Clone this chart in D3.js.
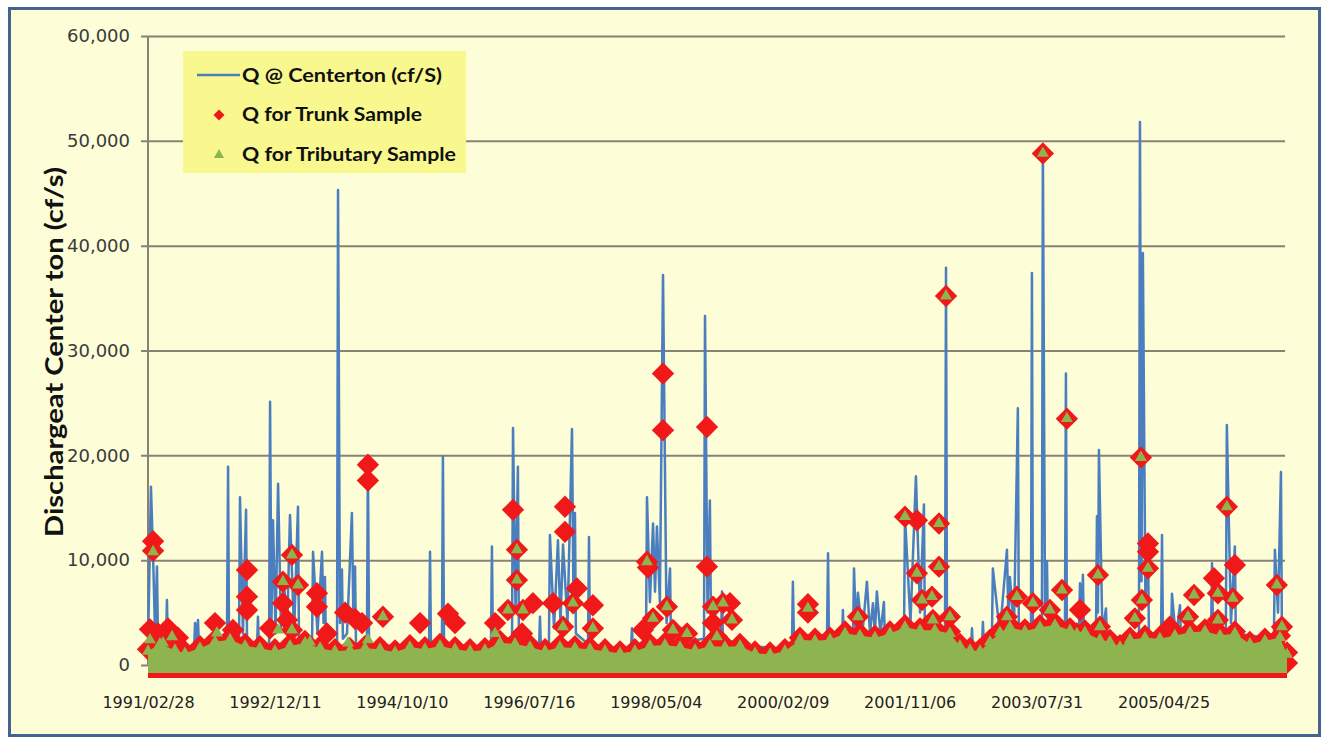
<!DOCTYPE html>
<html>
<head>
<meta charset="utf-8">
<script src="https://cdn.jsdelivr.net/npm/d3@7"></script>
<style>
  body { margin: 0; background: #ffffff; }
  svg { display: block; }
</style>
</head>
<body>
<div id="chart"></div>
<script>
// x axis is the spreadsheet row (one row per day), a date label every 650 rows
var tickRows = [0, 650, 1300, 1950, 2600, 3250, 3900, 4550, 5200];
var tickLabels = ['1991/02/28', '1992/12/11', '1994/10/10', '1996/07/16', '1998/05/04',
    '2000/02/09', '2001/11/06', '2003/07/31', '2005/04/25'];
var yTicks = [0, 10000, 20000, 30000, 40000, 50000, 60000];
var lastRow = 5832;

// Q @ Centerton (cf/s), spikes
var flowRow = [
    0, 15, 26, 36, 46, 51, 92, 97, 102, 236,
    241, 248, 256, 261, 404, 410, 415, 466, 471, 486,
    502, 507, 558, 563, 568, 620, 625, 632, 640, 653,
    666, 681, 696, 712, 727, 748, 768, 773, 840, 845,
    868, 891, 899, 906, 911, 968, 973, 983, 993, 998,
    1019, 1044, 1052, 1060, 1065, 1121, 1126, 1132, 1439, 1444,
    1449, 1505, 1510, 1516, 1756, 1761, 1766, 1864, 1869, 1882,
    1894, 1899, 2002, 2007, 2012, 2053, 2058, 2079, 2099, 2112,
    2125, 2148, 2171, 2179, 2186, 2191, 2253, 2258, 2263, 2473,
    2478, 2483, 2550, 2555, 2570, 2586, 2596, 2606, 2621, 2637,
    2655, 2673, 2678, 2847, 2852, 2865, 2877, 2883, 2934, 2939,
    2944, 3297, 3302, 3308, 3476, 3482, 3487, 3553, 3558, 3564,
    3610, 3615, 3625, 3635, 3658, 3681, 3697, 3712, 3722, 3732,
    3750, 3768, 3773, 3871, 3876, 3904, 3932, 3953, 3973, 3978,
    4081, 4086, 4091, 4214, 4219, 4224, 4270, 4275, 4280, 4321,
    4326, 4362, 4398, 4406, 4413, 4434, 4454, 4459, 4521, 4526,
    4531, 4577, 4582, 4593, 4603, 4608, 4695, 4700, 4705, 4767,
    4772, 4780, 4787, 4792, 4854, 4859, 4864, 4869, 4887, 4905,
    4910, 5074, 5079, 5087, 5094, 5107, 5120, 5125, 5187, 5192,
    5197, 5238, 5243, 5263, 5284, 5289, 5443, 5448, 5453, 5519,
    5524, 5545, 5565, 5570, 5765, 5770, 5786, 5801, 5806, 5832
];
var flowQ = [
    1500, 17000, 10500, 3000, 9400, 2500, 2000, 6200, 1500, 1500,
    4000, 1800, 4300, 1500, 1500, 18900, 1800, 2000, 16000, 3000,
    14800, 2500, 1500, 4600, 1500, 2000, 25100, 4000, 13800, 3000,
    17300, 3500, 8000, 3000, 14300, 3000, 15100, 2500, 2000, 10800,
    3000, 10800, 4000, 8400, 1800, 1800, 45300, 4000, 9100, 2500,
    3000, 14500, 4000, 9400, 2000, 2000, 19500, 2000, 1500, 10800,
    1500, 1800, 19900, 1800, 1500, 11300, 2000, 2500, 22600, 5000,
    18900, 3000, 1500, 4600, 1500, 2000, 12400, 3500, 11900, 4000,
    11500, 4000, 22500, 5000, 14500, 3000, 2000, 12200, 1800, 1500,
    3500, 1500, 2500, 16000, 6000, 13500, 7000, 13200, 6000, 37200,
    4000, 9200, 2000, 2500, 33300, 5000, 15700, 3000, 2500, 7000,
    2000, 1500, 7950, 1800, 1800, 10650, 2000, 2000, 5250, 2200,
    2500, 9200, 3500, 6900, 3000, 7950, 3000, 5900, 3000, 7000,
    3000, 6000, 2500, 3000, 14200, 4000, 18000, 5000, 15300, 3000,
    3000, 37900, 3000, 1500, 3500, 1500, 1800, 4100, 2000, 2500,
    9200, 3000, 11000, 4000, 8400, 3500, 24500, 3000, 3000, 37400,
    3500, 3500, 49300, 5000, 9900, 3000, 3000, 27800, 3000, 3000,
    7800, 4000, 8600, 3000, 3000, 14200, 5000, 20500, 3000, 5400,
    2500, 2500, 51800, 8000, 39300, 6000, 11800, 3000, 2500, 12400,
    2500, 2500, 6800, 2500, 5700, 2500, 2500, 9700, 3000, 3000,
    22900, 4000, 11300, 3000, 2500, 11000, 5000, 18400, 2500, 1200
];

// Q for Trunk Sample
var trunkRow = [
    26, 26, 10, 51, 102, 153, 343, 435, 625, 507,
    507, 507, 737, 691, 691, 768, 712, 865, 865, 737,
    916, 1126, 1126, 1203, 1009, 1060, 1096, 1393, 1536, 1572,
    1869, 1889, 1889, 1843, 1920, 1915, 1777, 1971, 2637, 2637,
    2862, 2862, 2555, 2560, 2135, 2135, 2196, 2176, 2074, 2278,
    2278, 2125, 2657, 2586, 2688, 2760, 2534, 2893, 2893, 2944,
    2913, 2980, 2990, 3379, 3379, 3635, 3876, 3937, 3937, 3963,
    4086, 4050, 4050, 4014, 4019, 4106, 4449, 4531, 4582, 4705,
    4680, 4618, 4772, 4864, 4874, 4398, 4756, 5084, 5120, 5120,
    5120, 5089, 5053, 5524, 5565, 5555, 5478, 5458, 5356, 5325,
    5478, 5232, 5780, 5806, 5832
];
var trunkQ = [
    11800, 10900, 3400, 3000, 3500, 2600, 4000, 3340, 3500, 9060,
    6520, 5250, 10500, 7950, 5900, 7630, 4300, 6840, 5560, 3340,
    3000, 19100, 17600, 4600, 5000, 4400, 4000, 4000, 4900, 4000,
    14800, 11000, 8100, 5250, 5250, 3000, 4000, 5900, 27800, 22400,
    22700, 9380, 9850, 9300, 15100, 12700, 7300, 5900, 5900, 5700,
    3500, 3650, 5560, 4450, 3340, 3000, 3340, 5560, 4000, 5900,
    2700, 5900, 4300, 5800, 5000, 4600, 14150, 13800, 8750, 6200,
    35200, 13500, 9380, 6520, 4300, 4600, 6520, 5900, 48800, 23500,
    7150, 5250, 5250, 8590, 3650, 4600, 3000, 19800, 11600, 10800,
    9220, 6200, 4450, 15100, 9540, 6360, 6840, 8270, 6680, 4600,
    4300, 3650, 7630, 3650, 200
];

// Q for Tributary Sample
var tribRow = [
    26, 10, 77, 123, 353, 666, 829, 737, 691, 768,
    737, 1203, 1024, 1126, 1889, 1889, 1843, 1920, 1777, 2555,
    2176, 2278, 2125, 2657, 2586, 2688, 2760, 2893, 2944, 2913,
    2990, 3379, 3635, 3876, 3937, 3963, 4086, 4050, 4050, 4014,
    4019, 4106, 4449, 4531, 4582, 4705, 4680, 4618, 4864, 4874,
    4398, 4756, 5084, 5120, 5089, 5053, 5524, 5555, 5478, 5356,
    5325, 5478, 5780, 5806
];
var tribQ = [
    10800, 2400, 2100, 2700, 3050, 3340, 2200, 10500, 7950, 7630,
    3340, 4600, 2100, 2400, 11000, 8100, 5250, 5250, 3000, 9850,
    5900, 3500, 3650, 5560, 4450, 3340, 3000, 5560, 5900, 2700,
    4300, 5400, 4600, 14150, 8750, 6200, 35200, 13500, 9380, 6520,
    4300, 4600, 6520, 5900, 48800, 23500, 7150, 5250, 8590, 3650,
    4600, 3000, 19800, 9220, 6200, 4450, 15100, 6360, 6840, 6680,
    4600, 4300, 7630, 3650
];

// the everyday samples: so many markers they merge into a band along the bottom
var baseRow = [
    0, 61, 138, 189, 266, 343, 420, 497, 573, 650,
    727, 804, 881, 957, 1034, 1111, 1188, 1265, 1341, 1418,
    1495, 1572, 1649, 1725, 1802, 1879, 1956, 2033, 2109, 2186,
    2263, 2340, 2417, 2493, 2570, 2647, 2724, 2801, 2877, 2954,
    3031, 3108, 3185, 3261, 3338, 3415, 3492, 3569, 3645, 3722,
    3799, 3876, 3953, 4029, 4106, 4157, 4209, 4260, 4311, 4362,
    4413, 4490, 4567, 4644, 4721, 4797, 4874, 4925, 4977, 5028,
    5105, 5181, 5258, 5335, 5412, 5489, 5565, 5642, 5719, 5796, 5832
];
var baseQ = [
    1500, 2200, 1600, 1300, 1800, 2400, 2600, 2000, 1800, 1500,
    2000, 2300, 1800, 1500, 1600, 1800, 1700, 1400, 1900, 1700,
    2000, 1700, 1500, 1600, 2300, 2200, 1900, 1500, 1900, 1800,
    1700, 1500, 1300, 1500, 2000, 2100, 1900, 1600, 2000, 1900,
    2000, 1300, 1200, 1500, 2600, 2500, 2600, 3200, 3000, 2800,
    3200, 3800, 3500, 3500, 3200, 2000, 1600, 1500, 2400, 3300,
    3800, 3400, 3800, 4000, 3500, 3300, 2600, 2400, 1900, 2600,
    2800, 2700, 3000, 3300, 3400, 3000, 3200, 2200, 2500, 2800, 1200
];

var kleurBlauw = '#4a7ebf';
var kleurRood = '#f01818';
var kleurGroen = '#8db44f';

var W = 1324, H = 741;
var svg = d3.select('#chart').append('svg')
    .attr('width', W)
    .attr('height', H);

// chart frame
svg.append('rect')
    .attr('x', 9.5).attr('y', 8.5)
    .attr('width', 1310).attr('height', 727)
    .attr('fill', '#fdfdd8')
    .attr('stroke', '#45638f')
    .attr('stroke-width', 3);

var x = d3.scaleLinear().domain([0, lastRow]).range([148, 1287]);
var y = d3.scaleLinear().domain([0, 60000]).range([665, 36]);

// y axis with gridlines
var yAxis = svg.append('g')
    .attr('transform', 'translate(148,0)')
    .call(d3.axisLeft(y).tickValues(yTicks).tickSize(-1137).tickPadding(18).tickFormat(d3.format(',')));
yAxis.select('.domain').remove();
yAxis.selectAll('line')
    .attr('x1', -7)
    .attr('stroke', '#8a8172')
    .attr('stroke-width', 2);
yAxis.selectAll('text')
    .attr('font-family', 'DejaVu Sans')
    .attr('font-size', 18)
    .attr('fill', '#3a3a3a');

svg.append('line')
    .attr('x1', 148).attr('x2', 148)
    .attr('y1', y(60000)).attr('y2', y(0))
    .attr('stroke', '#8a8172')
    .attr('stroke-width', 2);

// x labels
var xAxis = svg.append('g')
    .attr('transform', 'translate(0,' + y(0) + ')')
    .call(d3.axisBottom(x).tickValues(tickRows).tickSize(0).tickPadding(32)
        .tickFormat(function (d, i) { return tickLabels[i]; }));
xAxis.select('.domain').remove();
xAxis.selectAll('text')
    .attr('font-family', 'DejaVu Sans')
    .attr('font-size', 16)
    .attr('fill', '#222');

// discharge line
var flowLine = d3.line()
    .x(function (d, i) { return x(flowRow[i]); })
    .y(function (d, i) { return y(flowQ[i]); });
svg.append('path')
    .datum(flowRow)
    .attr('d', flowLine)
    .attr('fill', 'none')
    .attr('stroke', kleurBlauw)
    .attr('stroke-width', 2.5)
    .attr('stroke-linejoin', 'round');

var baseIdx = d3.range(baseRow.length);
var ruit = d3.symbol().type(d3.symbolSquare).size(250);
var ruitKlein = d3.symbol().type(d3.symbolSquare).size(60);
var drieh = d3.symbol().type(d3.symbolTriangle).size(62);
var driehKlein = d3.symbol().type(d3.symbolTriangle).size(45);

// red band (diamonds of the everyday samples)
svg.append('path')
    .datum(baseIdx)
    .attr('d', d3.area()
        .x(function (i) { return x(baseRow[i]); })
        .y0(y(0) + 13)
        .y1(function (i) { return y(baseQ[i]) - 4; }))
    .attr('fill', kleurRood);

svg.selectAll('path.basisruit')
    .data(baseIdx)
    .enter()
    .append('path')
    .attr('class', 'basisruit')
    .attr('d', ruit)
    .attr('transform', function (i) { return 'translate(' + x(baseRow[i]) + ',' + y(baseQ[i]) + ') rotate(45)'; })
    .attr('fill', kleurRood);

svg.selectAll('path.ruit')
    .data(trunkRow)
    .enter()
    .append('path')
    .attr('class', 'ruit')
    .attr('d', ruit)
    .attr('transform', function (d, i) { return 'translate(' + x(trunkRow[i]) + ',' + y(trunkQ[i]) + ') rotate(45)'; })
    .attr('fill', kleurRood);

// green band (triangles of the everyday samples)
svg.append('path')
    .datum(baseIdx)
    .attr('d', d3.area()
        .x(function (i) { return x(baseRow[i]); })
        .y0(y(0) + 8)
        .y1(function (i) { return y(baseQ[i]) + 2; }))
    .attr('fill', kleurGroen);

svg.selectAll('path.basisdrieh')
    .data(baseIdx)
    .enter()
    .append('path')
    .attr('class', 'basisdrieh')
    .attr('d', drieh)
    .attr('transform', function (i) { return 'translate(' + x(baseRow[i]) + ',' + (y(baseQ[i]) + 2) + ')'; })
    .attr('fill', kleurGroen);

svg.selectAll('path.drieh')
    .data(tribRow)
    .enter()
    .append('path')
    .attr('class', 'drieh')
    .attr('d', drieh)
    .attr('transform', function (d, i) { return 'translate(' + x(tribRow[i]) + ',' + y(tribQ[i]) + ')'; })
    .attr('fill', kleurGroen);

// y title
svg.append('text')
    .attr('transform', 'translate(63,352) rotate(-90)')
    .attr('text-anchor', 'middle')
    .attr('font-family', 'Lato')
    .attr('font-weight', 'bold')
    .attr('font-size', 24)
    .attr('fill', '#111')
    .attr('textLength', 370)
    .attr('lengthAdjust', 'spacingAndGlyphs')
    .text('Dischargeat Center ton (cf/s)');

// legend
var legend = svg.append('g');
legend.append('rect')
    .attr('x', 183).attr('y', 51)
    .attr('width', 283).attr('height', 122)
    .attr('fill', '#f8f88e');
legend.append('line')
    .attr('x1', 197).attr('x2', 240)
    .attr('y1', 75).attr('y2', 75)
    .attr('stroke', kleurBlauw)
    .attr('stroke-width', 2.5);
legend.append('path')
    .attr('d', ruitKlein)
    .attr('transform', 'translate(219,115) rotate(45)')
    .attr('fill', kleurRood);
legend.append('path')
    .attr('d', driehKlein)
    .attr('transform', 'translate(219,155)')
    .attr('fill', kleurGroen);

var legendTexts = ['Q @ Centerton (cf/S)', 'Q for Trunk Sample', 'Q for Tributary Sample'];
var legendY = [82, 121, 161];
var legendW = [200, 180, 214];
legend.selectAll('text')
    .data(legendTexts)
    .enter()
    .append('text')
    .attr('x', 242)
    .attr('y', function (d, i) { return legendY[i]; })
    .attr('font-family', 'Lato')
    .attr('font-weight', 'bold')
    .attr('font-size', 19)
    .attr('fill', '#111')
    .attr('textLength', function (d, i) { return legendW[i]; })
    .attr('lengthAdjust', 'spacingAndGlyphs')
    .text(function (d) { return d; });
</script>
</body>
</html>
